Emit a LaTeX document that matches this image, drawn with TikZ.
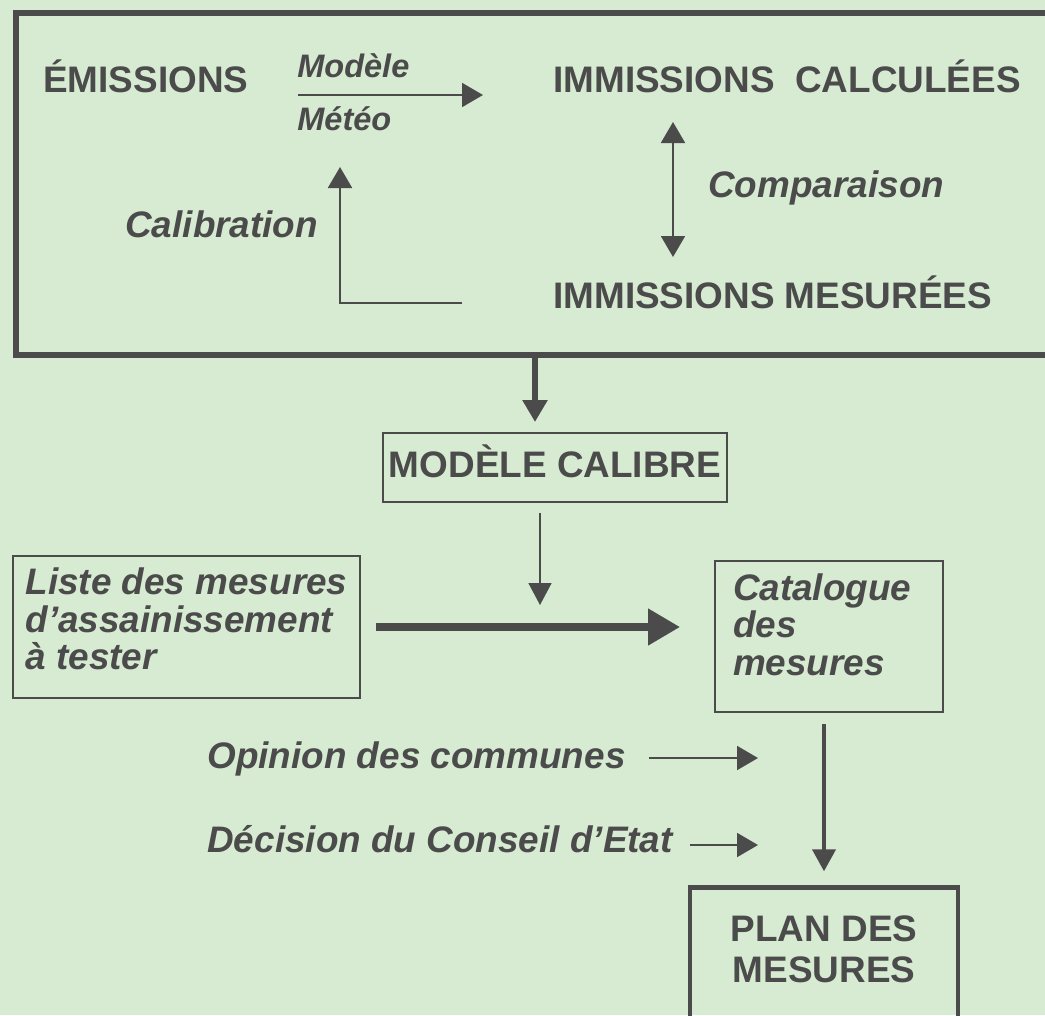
\documentclass[tikz,border=0pt]{standalone}
\usepackage{fontspec}
\setmainfont{Liberation Sans}
\usetikzlibrary{arrows.meta}
\definecolor{fond}{RGB}{214,235,210}
\definecolor{encre}{RGB}{75,75,75}
\tikzset{
	grand/.style={font=\bfseries\fontsize{21}{21}\selectfont, text=encre, inner sep=0pt},
	penche/.style={font=\bfseries\itshape\fontsize{21}{21.5}\selectfont, text=encre, inner sep=0pt},
	petit/.style={font=\bfseries\itshape\fontsize{18.5}{18.5}\selectfont, text=encre, inner sep=0pt},
	boite/.style={draw=encre, line width=1.1pt},
	cadre/.style={draw=encre, line width=3.4pt},
	fin/.style={draw=encre, line width=1.1pt, -{Triangle[length=0.42cm,width=0.48cm]}},
	allerretour/.style={fin, {Triangle[length=0.42cm,width=0.48cm]}-{Triangle[length=0.42cm,width=0.48cm]}},
	fine/.style={draw=encre, line width=0.9pt, -{Triangle[length=0.44cm,width=0.46cm]}},
	grosse/.style={draw=encre, line width=3.4pt, -{Triangle[length=0.44cm,width=0.48cm]}},
	moyenne/.style={draw=encre, line width=2.3pt, -{Triangle[length=0.44cm,width=0.46cm]}},
	large/.style={draw=encre, line width=4.3pt, -{Triangle[length=0.64cm,width=0.7cm]}}
}
\begin{document}
\begin{tikzpicture}[x=0.02cm, y=-0.02cm]
	\useasboundingbox (0,0) rectangle (1045,1015);
	\fill[fond] (0,0) rectangle (1045,1015);
	\node[cadre, minimum width=21.67cm, minimum height=6.84cm] (cadre) at (558,184) {};
	\node[grand, anchor=base west] (emis) at (43,92) {ÉMISSIONS};
	\node[petit, anchor=base west] (modele) at (297,77) {Modèle};
	\node[petit, anchor=base west] (meteo) at (297,130) {Météo};
	\node[penche, anchor=base west] (calib) at (125,237) {Calibration};
	\node[grand, anchor=base west] (calc) at (553,92) {IMMISSIONS\ \ CALCULÉES};
	\node[penche, anchor=base west] (compar) at (708,197) {Comparaison};
	\node[grand, anchor=base west] (mes) at (553,308) {IMMISSIONS MESURÉES};
	\coordinate (m1) at (298,95);
	\coordinate (m2) at (483,95);
	\draw[fin] (m1) -- (m2);
	\coordinate (cal1) at (462,303);
	\coordinate (cal2) at (340,167);
	\draw[fin] (cal1) -| (cal2);
	\coordinate (cmp1) at (673,122);
	\coordinate (cmp2) at (673,257);
	\draw[allerretour] (cmp1) -- (cmp2);
	\node[boite, grand, minimum width=6.88cm, minimum height=1.38cm, text height=15pt, text depth=4pt] (modcal) at (555,467.5) {MODÈLE CALIBRE};
	\coordinate (tip1) at (535,422);
	\draw[grosse] (cadre.south -| tip1) -- (tip1);
	\coordinate (dep2) at (540,513);
	\coordinate (tip2) at (540,605);
	\draw[fine] (dep2) -- (tip2);
	\node[boite, penche, align=left, minimum width=6.94cm, minimum height=2.84cm] (liste) at (186.5,627) {Liste des mesures\\d’assainissement\\à tester\rule[-9.5pt]{0pt}{0pt}};
	\node[boite, penche, align=left, text width=3.84cm, inner xsep=0.36cm, minimum height=3.02cm] (catal) at (829,636.5) {Catalogue\\des\\mesures\rule[-13.7pt]{0pt}{0pt}};
	\draw[large, shorten <=0.3cm, shorten >=0.68cm] (liste.east) -- (liste.east -| catal.west);
	\node[boite, grand, font=\bfseries\fontsize{21}{23.8}\selectfont, line width=2.5pt, align=center, minimum width=5.36cm, minimum height=3.2cm] (plan) at (824,967.5) {PLAN DES\\MESURES\rule[-21pt]{0pt}{0pt}};
	\draw[moyenne, shorten <=0.22cm, shorten >=0.28cm] (plan.north |- catal.south) -- (plan.north);
	\node[penche, anchor=base west] (opinion) at (207,768) {Opinion des communes};
	\coordinate (op) at (758,758);
	\draw[fin, shorten <=0.46cm] (opinion.east |- op) -- (op);
	\node[penche, anchor=base west] (decision) at (207,852) {Décision du Conseil d’Etat};
	\coordinate (dec) at (758,845);
	\draw[fin, shorten <=0.34cm] (decision.east |- dec) -- (dec);
\end{tikzpicture}
\end{document}
